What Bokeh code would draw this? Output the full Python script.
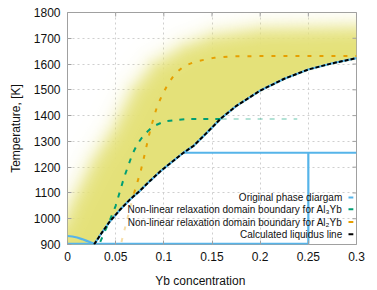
import numpy as np
from bokeh.plotting import figure
from bokeh.models import Range1d, FixedTicker, Label, BoxAnnotation
from bokeh.embed import file_html
from bokeh.resources import INLINE

# ---------------- data ----------------
x_ticks = [0, 0.05, 0.1, 0.15, 0.2, 0.25, 0.3]
x_tick_labels = ["0", "0.05", "0.1", "0.15", "0.2", "0.25", "0.3"]
y_ticks = [900, 1000, 1100, 1200, 1300, 1400, 1500, 1600, 1700, 1800]

# calculated liquidus line
liq_x = [0.0276, 0.035, 0.043, 0.055, 0.065, 0.075, 0.086, 0.097, 0.11, 0.12,
         0.131, 0.145, 0.159, 0.175, 0.2, 0.225, 0.25, 0.275, 0.3]
liq_T = [900, 942, 985, 1037, 1075, 1108, 1148, 1186, 1225, 1255,
         1283, 1335, 1388, 1437, 1497, 1543, 1579, 1603, 1623]

# original phase diagram pieces
pd_arc_x = [0.0, 0.005, 0.01, 0.015, 0.02, 0.025, 0.0276]
pd_arc_T = [933, 931, 927, 921, 914, 907, 903]
pd_eut_x = [0.0, 0.25]
pd_eut_T = [903, 903]
pd_per_x = [0.12, 0.3]
pd_per_T = [1256, 1256]
pd_vert_x = [0.25, 0.25]
pd_vert_T = [903, 1256]

# non-linear relaxation domain boundary, Al3Yb
al3_x = [0.034, 0.0397, 0.043, 0.05, 0.0587, 0.0674, 0.0726, 0.0795, 0.0888,
         0.1002, 0.1123, 0.1244, 0.16]
al3_T = [910, 959, 985, 1050, 1160, 1251, 1290, 1326, 1358, 1377, 1383, 1387, 1387]
al3_faint_x = [0.16, 0.2385]
al3_faint_T = [1387, 1387]

# non-linear relaxation domain boundary, Al2Yb
al2_faint_x = [0.056, 0.0615, 0.069]
al2_faint_T = [910, 991, 1098]
al2_x = [0.069, 0.076, 0.0812, 0.0836, 0.0864, 0.0898, 0.0933, 0.0985, 0.1043,
         0.1116, 0.121, 0.133, 0.152, 0.17, 0.2, 0.3]
al2_T = [1098, 1185, 1267, 1309, 1351, 1396, 1439, 1481, 1523,
         1562, 1592, 1610, 1624, 1630, 1631, 1631]

# fuzzy edge of the shaded (yellow) region
glow_edge_x = [-0.03, -0.02, -0.003, 0.005, 0.026, 0.048, 0.068, 0.089, 0.12, 0.15, 0.2, 0.3]
glow_edge_T = [820, 900, 1000, 1069, 1225, 1354, 1504, 1600, 1670, 1712, 1738, 1745]

legend_labels = ["Original phase diargam",
                 "Non-linear relaxation domain boundary for Al\u2083Yb",
                 "Non-linear relaxation domain boundary for Al\u2082Yb",
                 "Calculated liquidus line"]
legend_T = [1082, 1037, 987, 940]

x_title = "Yb concentration"
y_title = "Temperature, [K]"

BLUE = "#56b4e9"
GREEN = "#009e73"
ORANGE = "#e69f00"
BLACK = "#000000"
YELLOW = (228, 225, 120)
GRID = "#cfcfcf"
BORDER = "#a0a0a0"
TXT = "#111111"
FONT = "Liberation Sans"

X0, X1, Y0, Y1 = 0.0, 0.3, 900, 1800

p = figure(width=377, height=290, x_range=Range1d(X0, X1), y_range=Range1d(Y0, Y1),
           output_backend="svg", toolbar_location=None,
           min_border_left=67, min_border_right=21, min_border_top=12, min_border_bottom=46)
p.background_fill_color = "white"
p.border_fill_color = "white"
p.outline_line_color = BORDER
p.outline_line_width = 1

# --------------- shaded region as image ---------------
FW, FH = 289, 232
nx, ny = FW, FH
xs = X0 + (np.arange(nx) + 0.5) * (X1 - X0) / nx
Ts = Y0 + (np.arange(ny) + 0.5) * (Y1 - Y0) / ny
XX, TT = np.meshgrid(xs, Ts)
sx = FW / (X1 - X0)
sy = FH / (Y1 - Y0)
PX, PY = XX * sx, TT * sy
ex = np.array(glow_edge_x) * sx
ey = np.array(glow_edge_T) * sy
dist = np.full(XX.shape, np.inf)
for i in range(len(ex) - 1):
    ax_, ay_, bx_, by_ = ex[i], ey[i], ex[i + 1], ey[i + 1]
    vx, vy = bx_ - ax_, by_ - ay_
    t = ((PX - ax_) * vx + (PY - ay_) * vy) / (vx * vx + vy * vy)
    t = np.clip(t, 0, 1)
    dist = np.minimum(dist, np.hypot(PX - (ax_ + t * vx), PY - (ay_ + t * vy)))
inside = TT < np.interp(XX, glow_edge_x, glow_edge_T)
sd = np.where(inside, dist, -dist)
a_glow = 1.0 / (1.0 + np.exp(-sd / 5.5))
liq_interp = np.interp(XX, liq_x, liq_T, left=0)
a_liq = 1.0 / (1.0 + np.exp(-np.clip((TT - liq_interp) * sy / 0.6, -50, 50)))
alpha = a_glow * a_liq

img = np.empty((ny, nx), dtype=np.uint32)
view = img.view(dtype=np.uint8).reshape((ny, nx, 4))
view[:, :, 0] = YELLOW[0]
view[:, :, 1] = YELLOW[1]
view[:, :, 2] = YELLOW[2]
view[:, :, 3] = np.clip(alpha * 255, 0, 255).astype(np.uint8)
p.image_rgba(image=[img], x=X0, y=Y0, dw=X1 - X0, dh=Y1 - Y0)

# --------------- lines ---------------
for xx, tt in [(liq_x, liq_T), (pd_arc_x, pd_arc_T), (pd_eut_x, pd_eut_T),
               (pd_per_x, pd_per_T), (pd_vert_x, pd_vert_T)]:
    p.line(xx, tt, line_color=BLUE, line_width=2.2)

p.line(al3_faint_x, al3_faint_T, line_color=GREEN, line_width=2, line_dash="5 7", line_alpha=0.3)
p.line(al3_x, al3_T, line_color=GREEN, line_width=2, line_dash="5 7")
p.line(al2_faint_x, al2_faint_T, line_color=ORANGE, line_width=2, line_dash="4 8", line_alpha=0.35)
p.line(al2_x, al2_T, line_color=ORANGE, line_width=2, line_dash="4 8")
p.line(liq_x, liq_T, line_color=BLACK, line_width=2, line_dash="4 2")

# mirror ticks on top and right (half of each marker is clipped by the frame)
p.scatter(x=x_ticks, y=[Y1] * len(x_ticks), marker="dash", size=8, angle=np.pi / 2,
          line_color=BORDER, line_width=1)
p.scatter(x=[X1] * len(y_ticks), y=y_ticks, marker="dash", size=8,
          line_color=BORDER, line_width=1)

# --------------- axes ---------------
for ax in (p.xaxis[0], p.yaxis[0]):
    ax.axis_line_color = None
    ax.major_tick_line_color = BORDER
    ax.major_tick_in = 4
    ax.major_tick_out = 0
    ax.minor_tick_line_color = None
    ax.major_label_text_font = FONT
    ax.major_label_text_font_size = "12px"
    ax.major_label_text_color = TXT
    ax.major_label_standoff = 7
    ax.axis_label_text_font = FONT
    ax.axis_label_text_font_size = "12px"
    ax.axis_label_text_font_style = "normal"
    ax.axis_label_text_color = TXT

p.xaxis.ticker = FixedTicker(ticks=x_ticks)
p.yaxis.ticker = FixedTicker(ticks=y_ticks)
p.xaxis.major_label_overrides = {t: l for t, l in zip(x_ticks, x_tick_labels)}
p.yaxis.axis_label = y_title
p.yaxis.axis_label_standoff = 8
# trailing no-break spaces shift the centred title slightly left, as in the original
p.xaxis.axis_label = x_title + "\u00a0" * 7
p.xaxis.axis_label_standoff = 10

p.xgrid.ticker = FixedTicker(ticks=x_ticks)
p.ygrid.ticker = FixedTicker(ticks=y_ticks)
for g in (p.xgrid[0], p.ygrid[0]):
    g.grid_line_color = GRID
    g.grid_line_dash = "2 3"
    g.grid_line_width = 1

# --------------- legend ---------------
legend_colors = [BLUE, GREEN, ORANGE, BLACK]
for lab, tt, col in zip(legend_labels, legend_T, legend_colors):
    p.add_layout(Label(x=0.2852, y=tt, text=lab, text_font=FONT, text_font_size="10px",
                       text_align="right", text_baseline="middle", text_color=TXT))
    p.add_layout(BoxAnnotation(left=0.2917, right=0.2967, bottom=tt - 4, top=tt + 4,
                               fill_color=col, fill_alpha=1.0, line_color=None))

open("out.html", "w").write(file_html(p, INLINE))
